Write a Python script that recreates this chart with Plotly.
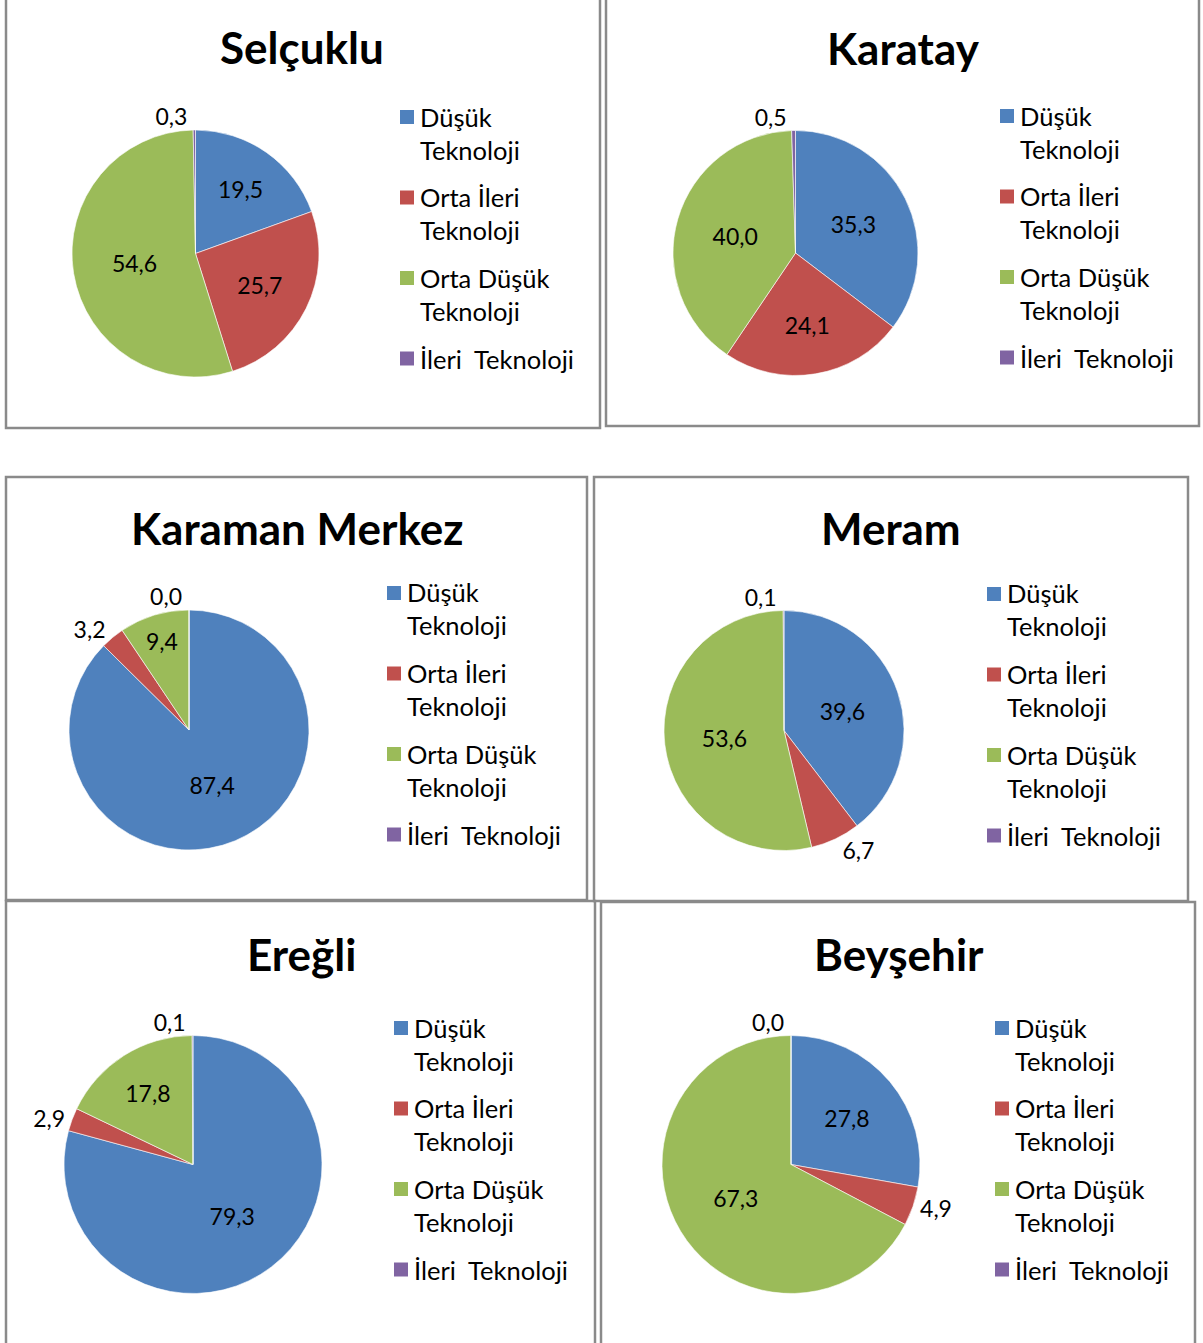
import plotly.graph_objects as go

W, H = 1203, 1343
OFF = 0  # body margin removed via post_script

# ---- data ----
categories = ["Düşük Teknoloji", "Orta İleri Teknoloji", "Orta Düşük Teknoloji", "İleri  Teknoloji"]
legend_labels = ["Düşük<br>Teknoloji", "Orta İleri<br>Teknoloji", "Orta Düşük<br>Teknoloji", "İleri  Teknoloji"]
regions = ["Selçuklu", "Karatay", "Karaman Merkez", "Meram", "Ereğli", "Beyşehir"]
selcuklu = [19.5, 25.7, 54.6, 0.3]
karatay = [35.3, 24.1, 40.0, 0.5]
karaman_merkez = [87.4, 3.2, 9.4, 0.0]
meram = [39.6, 6.7, 53.6, 0.1]
eregli = [79.3, 2.9, 17.8, 0.1]
beysehir = [27.8, 4.9, 67.3, 0.0]
series = [selcuklu, karatay, karaman_merkez, meram, eregli, beysehir]

# ---- style ----
colors = ["#4F81BD", "#C0504D", "#9BBB59", "#8064A2"]
FONT = "Lato"
BORDER = "#8a8a8a"

# panel geometry in screen pixels: box (x0,y0,x1,y1), pie center/radius, title center, legend anchor
panels = [
    dict(box=(6, -6, 600, 428), pie=(195.5, 253.5, 123.5), title=(302, 47), leg=(407, 117)),
    dict(box=(606, -6, 1199, 426), pie=(795.5, 253, 122.5), title=(903, 48), leg=(1007, 116)),
    dict(box=(6, 477, 587, 900), pie=(189, 730, 120), title=(297, 528), leg=(394, 593)),
    dict(box=(594, 477, 1188, 901), pie=(784, 730.5, 120), title=(891, 528), leg=(994, 594)),
    dict(box=(6, 901, 595, 1360), pie=(193, 1164.5, 129), title=(301, 954), leg=(401, 1028)),
    dict(box=(601, 902, 1195, 1360), pie=(791, 1164.5, 129), title=(899, 954), leg=(1002, 1028)),
]
text_positions = [
    ["inside", "inside", "inside", "outside"],
    ["inside", "inside", "inside", "outside"],
    ["inside", "outside", "inside", "outside"],
    ["inside", "outside", "inside", "outside"],
    ["inside", "outside", "inside", "outside"],
    ["inside", "outside", "inside", "outside"],
]

def px(x):
    return (x - OFF) / W

def py(y):
    return 1 - (y - OFF) / H

fig = go.Figure()
shapes = []
annotations = []
LH = 32  # legend line pitch
STEP = 80.5

for p, name, vals, tpos in zip(panels, regions, series, text_positions):
    cx, cy, r = p["pie"]
    fig.add_trace(go.Pie(
        labels=categories,
        values=vals,
        text=[f"{v:.1f}".replace(".", ",") for v in vals],
        textinfo="text",
        textposition=tpos,
        insidetextorientation="horizontal",
        textfont=dict(family=FONT, size=23, color="black"),
        marker=dict(colors=colors, line=dict(color="white", width=0.6)),
        sort=False,
        direction="clockwise",
        rotation=0,
        showlegend=False,
        hoverinfo="label+value",
        domain=dict(x=[px(cx - r), px(cx + r)], y=[py(cy + r), py(cy - r)]),
    ))
    x0, y0, x1, y1 = p["box"]
    shapes.append(dict(type="rect", xref="paper", yref="paper",
                       x0=px(x0), x1=px(x1), y0=py(y1), y1=py(y0),
                       line=dict(color=BORDER, width=2.5), fillcolor="rgba(0,0,0,0)"))
    tx, ty = p["title"]
    annotations.append(dict(text=name, x=px(tx), y=py(ty), xref="paper", yref="paper",
                            xanchor="center", yanchor="middle", showarrow=False,
                            font=dict(family=FONT, size=44, color="black", weight="bold")))
    lx, ly = p["leg"]
    for i, (lab, col) in enumerate(zip(legend_labels, colors)):
        yy = ly + i * STEP
        shapes.append(dict(type="rect", xref="paper", yref="paper",
                           x0=px(lx - 7), x1=px(lx + 7), y0=py(yy + 7), y1=py(yy - 7),
                           line=dict(width=0), fillcolor=col))
        nl = lab.count("<br>") + 1
        annotations.append(dict(text=lab, x=px(lx + 11), y=py(yy + (nl - 1) * LH / 2),
                                xref="paper", yref="paper", xanchor="left", yanchor="middle",
                                align="left", showarrow=False,
                                font=dict(family=FONT, size=25.5, color="black")))

fig.update_layout(
    width=W, height=H,
    margin=dict(l=0, r=0, t=0, b=0),
    paper_bgcolor="white", plot_bgcolor="white",
    shapes=shapes, annotations=annotations,
    showlegend=False,
)
fig.write_html("out.html",
               config={"displayModeBar": False},
               post_script="document.body.style.margin='0';document.body.style.overflow='hidden';")
